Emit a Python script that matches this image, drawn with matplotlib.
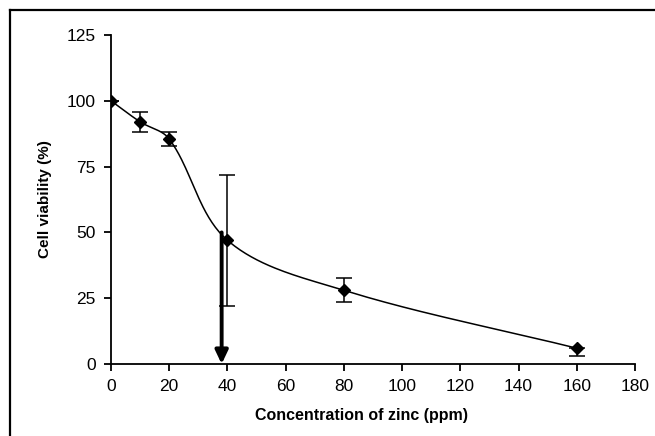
import numpy as np
import matplotlib
matplotlib.use("Agg")
from matplotlib import pyplot as plt
from matplotlib.lines import Line2D

plt.rcParams['font.family'] = ['Liberation Sans', 'DejaVu Sans']

# data
conc = [0, 10, 20, 40, 80, 160]
viability = [100, 92, 85.5, 47, 28, 6]
err_low = [0, 3.7, 2.8, 25, 4.5, 3]
err_high = [0, 3.7, 2.8, 25, 4.5, 0]
ic50_x = 38
ic50_y = 50

xticks = [0, 20, 40, 60, 80, 100, 120, 140, 160, 180]
yticks = [0, 25, 50, 75, 100, 125]


def smooth(xs, ys, n=40, xs_scale=1.1):
    # excel-ish smoothed line: bezier segments, tangent along (next - prev),
    # control arm a third of the segment length
    px = np.array(xs, float) * xs_scale
    py = np.array(ys, float)
    P = np.column_stack([px, py])
    P = np.vstack([P[0], P, P[-1]])
    t = np.linspace(0, 1, n)[:, None]
    out = []
    for i in range(1, len(P) - 2):
        p0, p1, p2, p3 = P[i-1], P[i], P[i+1], P[i+2]
        L = np.linalg.norm(p2 - p1)
        d1 = (p2 - p0) / np.linalg.norm(p2 - p0)
        d2 = (p3 - p1) / np.linalg.norm(p3 - p1)
        c1 = p1 + d1 * L / 3
        c2 = p2 - d2 * L / 3
        b = (1-t)**3*p1 + 3*(1-t)**2*t*c1 + 3*(1-t)*t**2*c2 + t**3*p2
        out.append(b)
    out = np.vstack(out)
    return out[:, 0] / xs_scale, out[:, 1]


fig = plt.figure(figsize=(6.55, 4.36), dpi=100)
ax = fig.add_axes([0.1695, 0.1651, 0.8, 0.7546])

sx, sy = smooth(conc, viability)
ax.plot(sx, sy, color='black', lw=1.1)
ax.errorbar(conc, viability, yerr=[err_low, err_high], fmt='D', color='black', ms=6.5,
            ecolor='black', elinewidth=1.1, capsize=5.5, capthick=1.1)

ax.annotate('', xy=(ic50_x, 0), xytext=(ic50_x, ic50_y),
            arrowprops=dict(arrowstyle='-|>,head_width=0.38,head_length=0.8',
                            color='black', lw=2.8, shrinkA=0, shrinkB=0))

ax.set_xlim(0, 180)
ax.set_ylim(0, 125)
ax.set_xticks(xticks)
ax.set_yticks(yticks)
ax.spines['top'].set_visible(False)
ax.spines['right'].set_visible(False)
ax.spines['left'].set_linewidth(1.3)
ax.spines['bottom'].set_linewidth(1.3)
ax.tick_params(direction='out', length=5, width=1.3, labelsize=12.5, pad=6)
ax.set_xlabel('Concentration of zinc (ppm)', fontsize=11.5, fontweight='bold')
ax.xaxis.set_label_coords(0.478, -0.135)
ax.set_ylabel('Cell viability (%)', fontsize=11, fontweight='bold')
ax.yaxis.set_label_coords(-0.112, 0.5)

# frame around the figure (left and top only)
fig.add_artist(Line2D([0.016, 0.016], [0, 0.977], transform=fig.transFigure, color='black', lw=1.6))
fig.add_artist(Line2D([0.016, 1.0], [0.977, 0.977], transform=fig.transFigure, color='black', lw=1.6))

fig.savefig('out.png', dpi=100)
